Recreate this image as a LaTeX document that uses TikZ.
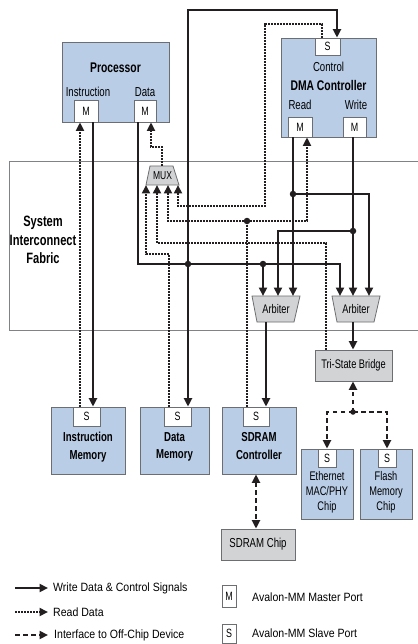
\documentclass[tikz,border=0pt]{standalone}
\usepackage{fontspec}
\setmainfont{Liberation Sans}
\newfontfamily\cond{Liberation Sans}[FakeStretch=0.74]
\newfontfamily\legf{Liberation Sans}[FakeStretch=0.88]
\usetikzlibrary{arrows.meta}
\definecolor{ink}{HTML}{231F20}
\definecolor{boxblue}{HTML}{B9CDE6}
\definecolor{boxgray}{HTML}{D2D3D5}
\definecolor{boxline}{HTML}{6D6E71}
\definecolor{fabricline}{HTML}{808285}
\begin{document}
\begin{tikzpicture}[x=1pt,y=-1pt,
  blk/.style={draw=boxline,fill=boxblue,line width=0.8pt,inner sep=0},
  gblk/.style={draw=boxline,fill=boxgray,line width=0.8pt,inner sep=0},
  port/.style={draw=boxline,fill=white,line width=0.8pt,inner sep=0,font={\cond\fontsize{12}{12}\selectfont}},
  wr/.style={draw=ink,line width=2.2pt},
  rd/.style={draw=ink,line width=2pt,dash pattern=on 1.8pt off 1.2pt},
  offc/.style={draw=ink,line width=2.4pt,dash pattern=on 4.5pt off 3.5pt},
  tipend/.style={-{Triangle[length=8.5pt,width=8pt]}},
  tipboth/.style={{Triangle[length=8.5pt,width=8pt]}-{Triangle[length=8.5pt,width=8pt]}},
  jdot/.style={circle,fill=ink,inner sep=0,minimum size=6.5pt},
  titlef/.style={font={\cond\bfseries\fontsize{14}{16}\selectfont},inner sep=0},
  memf/.style={font={\cond\bfseries\fontsize{13}{17.5}\selectfont},inner sep=0,align=center},
  labf/.style={font={\cond\fontsize{13}{15}\selectfont},inner sep=0},
  smlf/.style={font={\cond\fontsize{12.5}{15}\selectfont},inner sep=0,align=center},
  fabf/.style={font={\cond\bfseries\fontsize{15}{18.5}\selectfont},inner sep=0,align=center},
  legl/.style={font={\legf\fontsize{12}{14}\selectfont},inner sep=0,anchor=west},
  legr/.style={font={\legf\fontsize{12}{14}\selectfont},inner sep=0,anchor=west}
]
\useasboundingbox (0,0) rectangle (417,644);
\fill[white] (0,0) rectangle (417,644);

% interconnect fabric band
\draw[fabricline,line width=0.8pt] (420,161) -- (9,161) -- (9,330) -- (420,330);
\node[fabf] (fabric) at (43,240) {System\\Interconnect\\Fabric};

% ---- blocks ----
\node[blk,minimum width=107pt,minimum height=80pt] (proc) at (115.5,82) {};
\node[titlef] at (115.5,68) {Processor};
\node[labf] at (88,92) {Instruction};
\node[labf] at (145,92) {Data};
\node[port,minimum width=24pt,minimum height=22pt] (pim) at (86,111) {M};
\node[port,minimum width=22pt,minimum height=22pt] (pdm) at (145,111) {M};

\node[blk,minimum width=95pt,minimum height=99pt] (dma) at (328.5,87.5) {};
\node[port,minimum width=25pt,minimum height=17pt] (dmas) at (327.5,46.5) {S};
\node[labf] at (328.5,67) {Control};
\node[titlef] at (328.5,85) {DMA Controller};
\node[labf] at (300,105) {Read};
\node[labf] at (356,105) {Write};
\node[port,minimum width=24pt,minimum height=20pt] (dmar) at (300,127) {M};
\node[port,minimum width=23pt,minimum height=20pt] (dmaw) at (354.5,127) {M};

\node[blk,minimum width=74pt,minimum height=67pt] (imem) at (88,440.5) {};
\node[port,minimum width=27pt,minimum height=19pt] (imems) at (86.5,416.5) {S};
\node[memf] at (88,447) {Instruction\\Memory};

\node[blk,minimum width=69pt,minimum height=67pt] (dmem) at (174.5,440.5) {};
\node[port,minimum width=27pt,minimum height=19pt] (dmems) at (177.5,416.5) {S};
\node[memf] at (174.5,447) {Data\\Memory};

\node[blk,minimum width=74pt,minimum height=67pt] (sdc) at (259,440.5) {};
\node[port,minimum width=26pt,minimum height=19pt] (sdcs) at (256,416.5) {S};
\node[memf] at (259,446) {SDRAM\\Controller};

\node[gblk,minimum width=77pt,minimum height=31pt,font={\cond\fontsize{12.5}{14}\selectfont}] (tsb) at (353.5,365.5) {Tri-State Bridge};

\node[blk,minimum width=52pt,minimum height=70pt] (eth) at (327,484) {};
\node[port,minimum width=18pt,minimum height=18pt] (eths) at (327,458) {S};
\node[smlf] at (327,492) {Ethernet\\MAC/PHY\\Chip};

\node[blk,minimum width=52pt,minimum height=70pt] (fla) at (386,484) {};
\node[port,minimum width=18pt,minimum height=18pt] (flas) at (387,458) {S};
\node[smlf] at (386,492) {Flash\\Memory\\Chip};

\node[gblk,minimum width=74pt,minimum height=31pt,font={\cond\fontsize{13}{14}\selectfont}] (sdchip) at (258,544.5) {SDRAM Chip};

% multiplexer and arbiters
\draw[gblk] (150,166) -- (173,166) -- (179,185) -- (146,185) -- cycle;
\node[font={\cond\fontsize{11.5}{13}\selectfont},inner sep=0] (mux) at (162.5,176) {MUX};
\draw[gblk] (252,296) -- (300,296) -- (294,322) -- (257,322) -- cycle;
\node[smlf] (arbl) at (276,309) {Arbiter};
\draw[gblk] (332,296) -- (380,296) -- (374,322) -- (337,322) -- cycle;
\node[smlf] (arbr) at (356,309) {Arbiter};

% ---- write data & control (solid) ----
\draw[wr,tipend] (pim.south -| 93,0) -- (imems.north -| 93,0);
\draw[wr,tipend] (pdm.south -| 138,0) -- (138,264) -- (340,264) -- (340,296);
\draw[wr,tipend] (188,264) -- (188,10) -- (337,10) -- (dmas.north -| 337,0);
\draw[wr,tipend] (188,264) -- (dmems.north -| 188,0);
\draw[wr,tipend] (263,264) -- (263,296);
\draw[wr,tipend] (dmar.south -| 293,0) -- (293,296);
\draw[wr,tipend] (293,194) -- (369,194) -- (369,296);
\draw[wr,tipend] (dmaw.south -| 353,0) -- (353,296);
\draw[wr,tipend] (353,231) -- (278,231) -- (278,296);
\draw[wr,tipend] (266,322) -- (sdcs.north -| 266,0);
\draw[wr,tipend] (353,322) -- (tsb.north -| 353,0);

% ---- read data (dotted) ----
\draw[rd,tipend] (imems.north -| 80,0) -- (pim.south -| 80,0);
\draw[rd,tipend] (162,166) -- (162,147) -- (151,147) -- (pdm.south -| 151,0);
\draw[rd,tipend] (dmas.north -| 322,0) -- (322,24) -- (265,24) -- (265,206) -- (178,206) -- (178,185);
\draw[rd] (sdcs.north -| 247,0) -- (247,221);
\draw[rd,tipend] (247,221) -- (168,221) -- (168,185);
\draw[rd,tipend] (247,221) -- (307,221) -- (dmar.south -| 307,0);
\draw[rd,tipend] (tsb.north -| 326,0) -- (326,243) -- (157,243) -- (157,185);
\draw[rd,tipend] (dmems.north -| 169,0) -- (169,254) -- (146,254) -- (146,185);

% ---- off-chip interfaces (dashed) ----
\draw[offc,tipend] (353,412) -- (tsb.south -| 353,0);
\draw[offc,tipend] (353,412) -- (327,412) -- (eths.north);
\draw[offc,tipend] (353,412) -- (387,412) -- (flas.north);
\draw[offc,tipboth] (sdc.south -| 256,0) -- (sdchip.north -| 256,0);

% junctions
\foreach \p in {(188,264),(263,264),(293,194),(353,231),(247,221)}
  \node[jdot] at \p {};
\node[jdot,minimum size=5.5pt] at (353,412) {};

% ---- legend ----
\draw[wr,tipend] (15,588) -- (48,588);
\node[legl] at (53,588) {Write Data \& Control Signals};
\draw[rd,tipend] (15,612) -- (48,612);
\node[legl] at (53,612) {Read Data};
\draw[offc,tipend] (15,635) -- (48,635);
\node[legl] at (54,635) {Interface to Off-Chip Device};
\node[port,minimum width=14pt,minimum height=22pt] (legm) at (229,596.5) {M};
\node[legr] at (252,597) {Avalon-MM Master Port};
\node[port,minimum width=14pt,minimum height=19pt] (legs) at (229,633.5) {S};
\node[legr] at (252,633) {Avalon-MM Slave Port};
\end{tikzpicture}
\end{document}
